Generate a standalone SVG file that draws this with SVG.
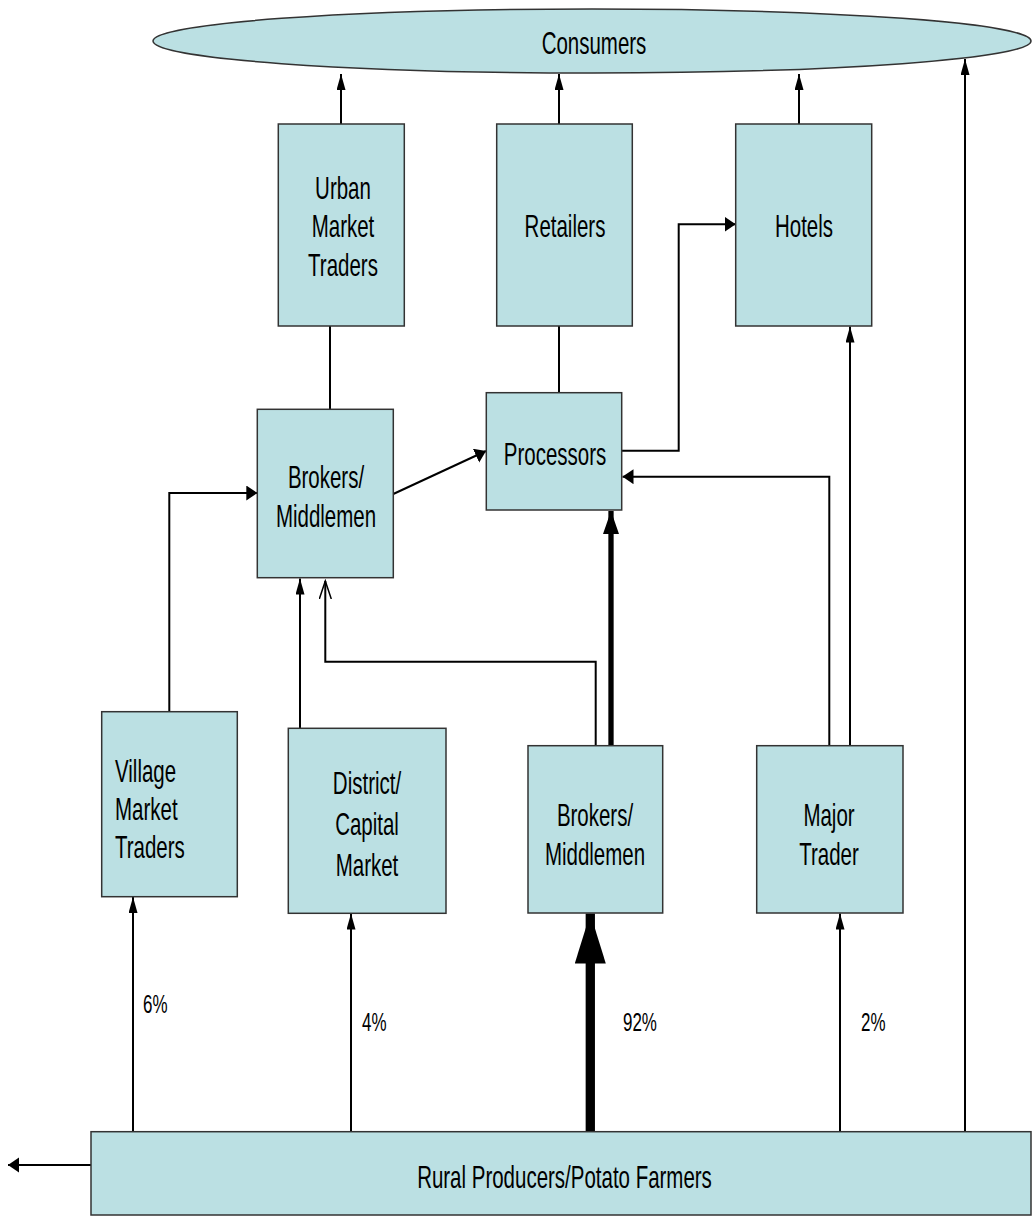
<svg xmlns="http://www.w3.org/2000/svg" width="1033" height="1216" viewBox="0 0 1033 1216">
<style>
.box{fill:#BBE0E3;stroke:#333;stroke-width:1.5}
.lbl{font-family:"Liberation Sans",Arial,sans-serif;font-size:32px;fill:#000}
.pct{font-family:"Liberation Sans",Arial,sans-serif;font-size:26.5px;fill:#000}
.c{stroke:#000;stroke-width:2;fill:none}
</style>
<defs>
<marker id="up" markerUnits="userSpaceOnUse" markerWidth="16" markerHeight="10" refX="16" refY="4.5" orient="auto"><path d="M0,0 L16,4.5 L0,9 z" fill="#000"/></marker>
<marker id="bl" markerUnits="userSpaceOnUse" markerWidth="11" markerHeight="16" refX="11" refY="7.5" orient="auto"><path d="M0,0 L11,7.5 L0,15 z" fill="#000"/></marker>
<marker id="op" markerUnits="userSpaceOnUse" markerWidth="20" markerHeight="14" refX="18" refY="6" orient="auto"><path d="M0,0 L18,6 L0,12" fill="none" stroke="#000" stroke-width="1.5"/></marker>
<marker id="md" markerUnits="userSpaceOnUse" markerWidth="24" markerHeight="17" refX="23" refY="8" orient="auto"><path d="M0,0 L23,8 L0,16 z" fill="#000"/></marker>
<marker id="bg" markerUnits="userSpaceOnUse" markerWidth="51" markerHeight="32" refX="50" refY="15.5" orient="auto"><path d="M0,0 L50,15.5 L0,31 z" fill="#000"/></marker>
</defs>
<rect width="1033" height="1216" fill="#fff"/>

<g id="connectors">
<line class="c" x1="341" y1="124" x2="341" y2="74" marker-end="url(#up)"/>
<line class="c" x1="559" y1="124" x2="559" y2="74" marker-end="url(#up)"/>
<line class="c" x1="799" y1="124" x2="799" y2="74" marker-end="url(#up)"/>
<line class="c" x1="330" y1="409" x2="330" y2="326"/>
<line class="c" x1="559" y1="393" x2="559" y2="326"/>
<path class="c" d="M621.7,450.7 H678.7 V224.3 H735.7" marker-end="url(#bl)"/>
<line class="c" x1="393.3" y1="494" x2="486" y2="451" marker-end="url(#bl)"/>
<path class="c" d="M169.3,712 V493 H257.3" marker-end="url(#bl)"/>
<line class="c" x1="300" y1="728" x2="300" y2="578.5" marker-end="url(#up)"/>
<path class="c" d="M595.7,746 V661.7 H325.3 V581" marker-end="url(#op)"/>
<line x1="611" y1="746" x2="611" y2="511" stroke="#000" stroke-width="5.3" marker-end="url(#md)"/>
<path class="c" d="M829.3,746 V476.7 H622.5" marker-end="url(#bl)"/>
<line class="c" x1="850" y1="746" x2="850" y2="326.5" marker-end="url(#up)"/>
<line class="c" x1="133" y1="1132" x2="133" y2="897" marker-end="url(#up)"/>
<line class="c" x1="351" y1="1132" x2="351" y2="913.5" marker-end="url(#up)"/>
<line x1="590.3" y1="1132" x2="590.3" y2="913.5" stroke="#000" stroke-width="9.3" marker-end="url(#bg)"/>
<line class="c" x1="840" y1="1132" x2="840" y2="913.5" marker-end="url(#up)"/>
<line class="c" x1="965" y1="1132" x2="965" y2="59" marker-end="url(#up)"/>
<line class="c" x1="91" y1="1165" x2="8" y2="1165" marker-end="url(#bl)"/>
</g>

<g id="consumers">
<ellipse class="box" cx="592" cy="41" rx="439" ry="32"/>
<text class="lbl" text-anchor="middle" transform="translate(594,54) scale(0.64,1)">Consumers</text>
</g>
<g id="urban-market-traders">
<rect class="box" x="278.3" y="124" width="126" height="202"/>
<text class="lbl" text-anchor="middle" transform="translate(343,199) scale(0.64,1)">Urban</text>
<text class="lbl" text-anchor="middle" transform="translate(343,237) scale(0.64,1)">Market</text>
<text class="lbl" text-anchor="middle" transform="translate(343,276) scale(0.64,1)">Traders</text>
</g>
<g id="retailers">
<rect class="box" x="496.7" y="124" width="135.6" height="202"/>
<text class="lbl" text-anchor="middle" transform="translate(565,237) scale(0.64,1)">Retailers</text>
</g>
<g id="hotels">
<rect class="box" x="735.7" y="124" width="136" height="202"/>
<text class="lbl" text-anchor="middle" transform="translate(804,237) scale(0.64,1)">Hotels</text>
</g>
<g id="brokers-upper">
<rect class="box" x="257.3" y="409.3" width="136" height="168.4"/>
<text class="lbl" text-anchor="middle" transform="translate(326,488) scale(0.64,1)">Brokers/</text>
<text class="lbl" text-anchor="middle" transform="translate(326,527) scale(0.64,1)">Middlemen</text>
</g>
<g id="processors">
<rect class="box" x="486.3" y="392.7" width="135.4" height="117.3"/>
<text class="lbl" text-anchor="middle" transform="translate(555,465) scale(0.64,1)">Processors</text>
</g>
<g id="village-market-traders">
<rect class="box" x="101.7" y="711.7" width="135.6" height="185"/>
<text class="lbl" transform="translate(115,782) scale(0.64,1)">Village</text>
<text class="lbl" transform="translate(115,820) scale(0.64,1)">Market</text>
<text class="lbl" transform="translate(115,858) scale(0.64,1)">Traders</text>
</g>
<g id="district-capital-market">
<rect class="box" x="288.3" y="728.3" width="157.7" height="185"/>
<text class="lbl" text-anchor="middle" transform="translate(367,794) scale(0.64,1)">District/</text>
<text class="lbl" text-anchor="middle" transform="translate(367,835) scale(0.64,1)">Capital</text>
<text class="lbl" text-anchor="middle" transform="translate(367,876) scale(0.64,1)">Market</text>
</g>
<g id="brokers-lower">
<rect class="box" x="528" y="745.7" width="134.7" height="167.3"/>
<text class="lbl" text-anchor="middle" transform="translate(595,826) scale(0.64,1)">Brokers/</text>
<text class="lbl" text-anchor="middle" transform="translate(595,865) scale(0.64,1)">Middlemen</text>
</g>
<g id="major-trader">
<rect class="box" x="756.7" y="745.7" width="146.3" height="167.3"/>
<text class="lbl" text-anchor="middle" transform="translate(829,826) scale(0.64,1)">Major</text>
<text class="lbl" text-anchor="middle" transform="translate(829,865) scale(0.64,1)">Trader</text>
</g>
<g id="rural-producers">
<rect class="box" x="91" y="1131.7" width="940" height="83.3"/>
<text class="lbl" text-anchor="middle" transform="translate(564.5,1188) scale(0.64,1)">Rural Producers/Potato Farmers</text>
</g>
<g id="labels">
<text class="pct" transform="translate(143,1013) scale(0.64,1)">6%</text>
<text class="pct" transform="translate(362,1031) scale(0.64,1)">4%</text>
<text class="pct" transform="translate(623,1031) scale(0.64,1)">92%</text>
<text class="pct" transform="translate(861,1031) scale(0.64,1)">2%</text>
</g>
</svg>
